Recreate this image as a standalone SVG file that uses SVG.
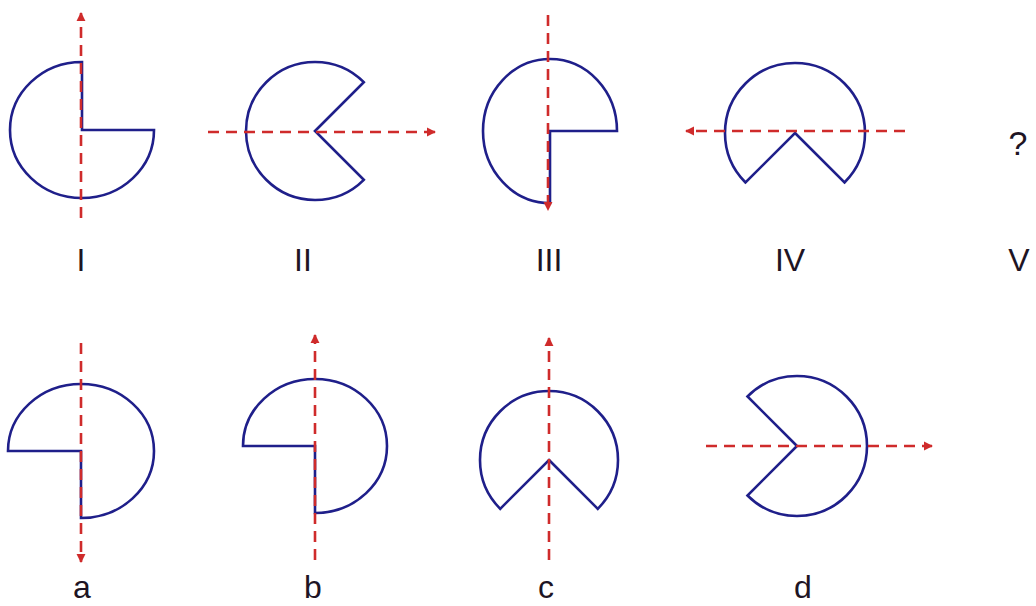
<svg xmlns="http://www.w3.org/2000/svg" width="1036" height="606" viewBox="0 0 1036 606">
<style>
.shape{fill:none;stroke:#1f1f8a;stroke-width:2.6;stroke-linejoin:miter}
.axis{fill:none;stroke:#cf2b2b;stroke-width:2.6;stroke-dasharray:11 7;marker-end:url(#arr)}
.lbl{font-family:"Liberation Sans","Open Sans",sans-serif;font-size:32px;fill:#1e1424;text-anchor:middle}
</style>
<defs>
<marker id="arr" viewBox="0 0 10 10" refX="9" refY="5" markerWidth="3.6" markerHeight="3.6" orient="auto">
<path d="M0,0 L10,5 L0,10 Z" fill="#cf2b2b"/>
</marker>
</defs>
<rect width="1036" height="606" fill="#ffffff"/>
<g id="node-I"><path class="shape" d="M82,130 L154,130 A72,68 0 1 1 82,62 Z"/><text class="lbl" x="81" y="271">I</text></g>
<g id="node-II"><path class="shape" d="M315,131 L363.8,82.2 A69,69 0 1 0 363.8,179.8 Z"/><text class="lbl" x="303" y="271">II</text></g>
<g id="node-III"><path class="shape" d="M550,131 L617,131 A67,72 0 1 0 550,203 Z"/><text class="lbl" x="549" y="271">III</text></g>
<g id="node-IV"><path class="shape" d="M795,133 L844.5,182.5 A70,70 0 1 0 745.5,182.5 Z"/><text class="lbl" x="790" y="271">IV</text></g>
<g id="node-V"><text class="lbl" x="1018" y="155" style="font-size:34px">?</text><text class="lbl" x="1019" y="271">V</text></g>
<g id="node-a"><path class="shape" d="M81,451 L8,451 A73,67 0 1 1 81,518 Z"/><text class="lbl" x="82" y="598">a</text></g>
<g id="node-b"><path class="shape" d="M315,446 L243,446 A72,67 0 1 1 315,513 Z"/><text class="lbl" x="313" y="598">b</text></g>
<g id="node-c"><path class="shape" d="M549,460 L597.8,508.8 A69,69 0 1 0 500.2,508.8 Z"/><text class="lbl" x="546" y="598">c</text></g>
<g id="node-d"><path class="shape" d="M797,446 L747.5,396.5 A70,70 0 1 1 747.5,495.5 Z"/><text class="lbl" x="803" y="598">d</text></g>
<g id="connectors">
<line class="axis" x1="81" y1="218" x2="81" y2="13"/>
<line class="axis" x1="208" y1="132" x2="435" y2="132"/>
<line class="axis" x1="548" y1="15" x2="548" y2="210"/>
<line class="axis" x1="905" y1="131" x2="686" y2="131"/>
<line class="axis" x1="81" y1="343" x2="81" y2="562"/>
<line class="axis" x1="315" y1="560" x2="315" y2="335"/>
<line class="axis" x1="549" y1="560" x2="549" y2="338"/>
<line class="axis" x1="706" y1="446" x2="932" y2="446"/>
</g>
</svg>
